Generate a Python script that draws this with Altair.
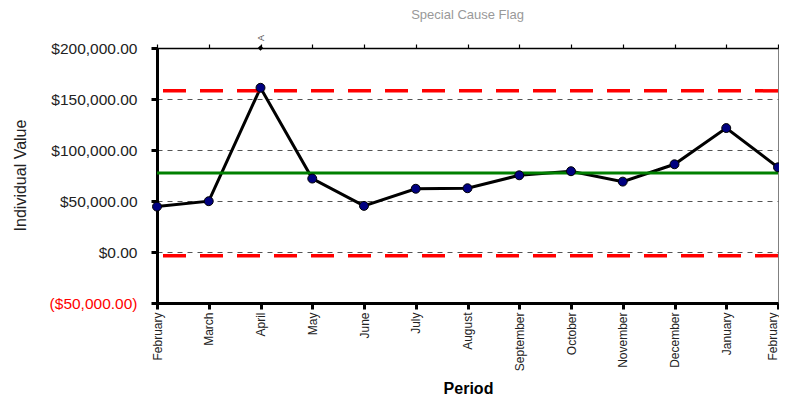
import altair as alt
import pandas as pd

months = ["February", "March", "April", "May", "June", "July", "August",
          "September", "October", "November", "December", "January", "February"]
values = [44500, 49800, 161000, 72000, 45200, 62000, 62500, 75200, 79200,
          69000, 86000, 121500, 83000]
center_line = [77500]
control_limits = [158000, -3600]
flag_index = [2]
flag_value = [200000]
flag_text = ["A"]
y_ticks = [-50000, 0, 50000, 100000, 150000, 200000]

FONT = "Liberation Sans"

df = pd.DataFrame({"i": list(range(len(months))), "v": values})
df_cl = pd.DataFrame({"v": center_line})
df_lim = pd.DataFrame({"v": control_limits})
df_flag = pd.DataFrame({"i": flag_index, "v": flag_value, "t": flag_text})

label_arr = "[" + ",".join("'" + m + "'" for m in months) + "]"
last_i = len(months) - 1

xscale = alt.Scale(domain=[0, last_i], nice=False, zero=False)
yscale = alt.Scale(domain=[-50000, 200000], nice=False, zero=False)

yaxis = alt.Axis(
    values=y_ticks,
    labelExpr="datum.value < 0 ? '($' + format(-datum.value, ',.2f') + ')' : '$' + format(datum.value, ',.2f')",
    labelColor={"condition": {"test": "datum.value < 0", "value": "#ff0000"}, "value": "#222222"},
    labelFontSize=15.5, labelFont=FONT, labelPadding=14,
    domainColor="black", domainWidth=3, tickColor="black", tickWidth=3, tickSize=6,
    grid=True, gridDash=[5, 5], gridColor="#555555", gridWidth=1,
    title="Individual Value", titleFont=FONT, titleFontSize=16, titleFontWeight="normal",
    titleColor="#222222", titleAngle=-90, titleX=-137, titleY=127, titleBaseline="middle",
    titleAlign="center",
)

xaxis = alt.Axis(
    values=list(range(len(months))), labelExpr=label_arr + "[datum.value]",
    labelAngle=-90, labelFontSize=12, labelFont=FONT, labelColor="#222222", labelPadding=3,
    labelOffset={"condition": {"test": "datum.value == %d" % last_i, "value": -6}, "value": 0},
    domainColor="black", domainWidth=3, tickColor="black", tickWidth=3, tickSize=6,
    grid=False, title="Period", titleFont=FONT, titleFontSize=16, titleFontWeight="bold",
    titleColor="black", titleX=311, titleY=77, titleBaseline="top", titleAlign="center",
)

xaxis_top = alt.Axis(
    orient="top", values=list(range(len(months))), labels=False, grid=False, title=None,
    domainColor="black", domainWidth=1.5, tickColor="black", tickWidth=1.2, tickSize=4,
)

lim = alt.Chart(df_lim).mark_rule(color="#ff0000", strokeWidth=3.5, strokeDash=[23, 14]).encode(
    y=alt.Y("v:Q", scale=yscale)
)
cl = alt.Chart(df_cl).mark_rule(color="#008000", strokeWidth=3).encode(
    y=alt.Y("v:Q", scale=yscale)
)
line = alt.Chart(df).mark_line(color="black", strokeWidth=3).encode(
    x=alt.X("i:Q", scale=xscale, axis=xaxis),
    y=alt.Y("v:Q", scale=yscale, axis=yaxis),
)
pts = alt.Chart(df).mark_point(filled=True, fill="#000080", stroke="black", strokeWidth=1,
                               size=80, opacity=1).encode(
    x=alt.X("i:Q", scale=xscale, axis=None),
    y=alt.Y("v:Q", scale=yscale),
)
flag = alt.Chart(df_flag).mark_point(shape="diamond", filled=True, color="black", size=30,
                                     opacity=1).encode(
    x=alt.X("i:Q", scale=xscale, axis=xaxis_top),
    y=alt.Y("v:Q", scale=yscale),
)
flag_lbl = alt.Chart(df_flag).mark_text(angle=270, align="left", baseline="middle", dx=7,
                                        fontSize=9, font=FONT, color="#555555").encode(
    x=alt.X("i:Q", scale=xscale, axis=None),
    y=alt.Y("v:Q", scale=yscale),
    text="t:N",
)

chart = alt.layer(line, lim, cl, pts, flag, flag_lbl).resolve_axis(x="independent").properties(
    width=621, height=255, autosize="none",
    padding={"left": 149, "top": 40, "right": 1, "bottom": 93},
    title=alt.TitleParams("Special Cause Flag", font=FONT, fontSize=13, fontWeight="normal",
                          color="#999999", anchor="middle", offset=13),
).configure_view(stroke="#808080", strokeWidth=1)

chart.save("out.html", embed_options={"renderer": "svg", "actions": False})
